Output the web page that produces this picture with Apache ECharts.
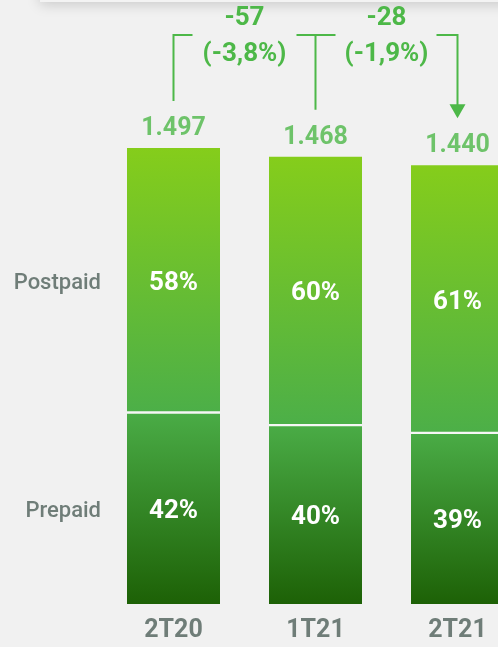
<!DOCTYPE html>
<html>
<head>
<meta charset="utf-8">
<script src="https://cdn.jsdelivr.net/npm/echarts@6/dist/echarts.min.js"></script>
<style>
  html, body { margin: 0; padding: 0; background: #f1f1f1; }
  #chart { width: 498px; height: 647px; }
</style>
</head>
<body>
<div id="chart"></div>
<script>
const categories = ['2T20', '1T21', '2T21'];
const totals = [1497, 1468, 1440];
const postpaidPct = [58, 60, 61];
const prepaidPct = [42, 40, 39];
const deltaAbs = ['-57', '-28'];
const deltaRel = ['(-3,8%)', '(-1,9%)'];
const segmentNames = ['Postpaid', 'Prepaid'];

const GREEN = '#4db848';
const GREY = '#6f7d78';
const FONT = 'Roboto';

const prepaidVals = totals.map((t, i) => t * prepaidPct[i] / 100);
const postpaidVals = totals.map((t, i) => t - prepaidVals[i]);

const fmtThousands = v => String(v).replace(/\B(?=(\d{3})+(?!\d))/g, '.');

const chart = echarts.init(document.getElementById('chart'));

const option = {
  backgroundColor: '#f1f1f1',
  animation: false,
  // categories sit on the grid edges (boundaryGap false); the last bar runs off the canvas
  grid: { left: 173.5, right: 40.5, top: 116.6, bottom: 43 },
  xAxis: {
    type: 'category',
    data: categories,
    boundaryGap: false,
    axisLine: { show: false },
    axisTick: { show: false },
    axisLabel: {
      margin: 14,
      fontFamily: FONT,
      fontWeight: 'bold',
      fontSize: 25,
      color: GREY
    }
  },
  yAxis: {
    type: 'value',
    min: 0,
    max: 1600,
    show: false,
    splitLine: { show: false }
  },
  series: [
    {
      name: 'Prepaid',
      type: 'bar',
      stack: 'total',
      barWidth: 93,
      clip: false,
      data: prepaidVals,
      itemStyle: {
        color: new echarts.graphic.LinearGradient(0, 0, 0, 1, [
          { offset: 0, color: '#4aac46' },
          { offset: 1, color: '#1d6106' }
        ])
      },
      label: {
        show: true,
        position: 'inside',
        offset: [0, 3],
        fontFamily: FONT,
        fontWeight: 'bold',
        fontSize: 26,
        color: '#ffffff',
        formatter: p => prepaidPct[p.dataIndex] + '%'
      }
    },
    {
      name: 'Postpaid',
      type: 'bar',
      stack: 'total',
      barWidth: 93,
      clip: false,
      data: postpaidVals,
      itemStyle: {
        color: new echarts.graphic.LinearGradient(0, 0, 0, 1, [
          { offset: 0, color: '#85cd1b' },
          { offset: 1, color: '#4caf48' }
        ])
      },
      label: {
        show: true,
        position: 'inside',
        offset: [0, 3],
        fontFamily: FONT,
        fontWeight: 'bold',
        fontSize: 26,
        color: '#ffffff',
        formatter: p => postpaidPct[p.dataIndex] + '%'
      }
    },
    {
      name: 'Total',
      type: 'scatter',
      symbolSize: 0,
      clip: false,
      data: totals.map((t, i) => [i, t]),
      label: {
        show: true,
        position: 'top',
        distance: 7,
        fontFamily: FONT,
        fontWeight: 'bold',
        fontSize: 25,
        color: GREEN,
        formatter: p => fmtThousands(totals[p.dataIndex])
      }
    }
  ]
};

chart.setOption(option);

// annotations placed from the chart's own scales
const px = (i, v) => chart.convertToPixel({ gridIndex: 0 }, [i, v]);
const graphics = [];

// top shadow strip
graphics.push({
  type: 'rect',
  shape: { x: 40, y: -40, width: 520, height: 42 },
  style: { fill: '#f3f3f3', shadowBlur: 14, shadowColor: 'rgba(0,0,0,0.18)', shadowOffsetY: 2 },
  z: 1
});

// light separators between segments
totals.forEach((t, i) => {
  const p = px(i, prepaidVals[i]);
  graphics.push({
    type: 'rect',
    shape: { x: p[0] - 46.5, y: p[1] - 1.2, width: 93, height: 2.4 },
    style: { fill: '#f6f6f6' },
    z: 10
  });
});

// side labels next to the first bar
const b0pre = px(0, prepaidVals[0] / 2);
const b0post = px(0, prepaidVals[0] + postpaidVals[0] / 2);
[[segmentNames[0], b0post], [segmentNames[1], b0pre]].forEach(([txt, p]) => {
  graphics.push({
    type: 'text',
    x: p[0] - 46.5 - 26,
    y: p[1] + 3,
    style: {
      text: txt,
      font: '500 22px ' + FONT,
      fill: GREY,
      align: 'right',
      verticalAlign: 'middle'
    },
    z: 10
  });
});

// bracket connectors
const lineY = 35;
const tops = totals.map((t, i) => px(i, t));
const lineStyle = { stroke: GREEN, lineWidth: 2, fill: null };

for (let k = 0; k < 2; k++) {
  const a = tops[k], b = tops[k + 1];
  const mid = (a[0] + b[0]) / 2;
  graphics.push({
    type: 'polyline',
    shape: { points: [[a[0], a[1] - 47], [a[0], lineY], [mid - 52, lineY]] },
    style: lineStyle, z: 10
  });
  graphics.push({
    type: 'text', x: mid, y: 18,
    style: { text: deltaAbs[k], font: 'bold 26px ' + FONT, fill: GREEN, align: 'center', verticalAlign: 'middle' },
    z: 10
  });
  graphics.push({
    type: 'text', x: mid, y: 54,
    style: { text: deltaRel[k], font: 'bold 26px ' + FONT, fill: GREEN, align: 'center', verticalAlign: 'middle' },
    z: 10
  });
  if (k === 1) {
    graphics.push({
      type: 'polyline',
      shape: { points: [[mid + 50, lineY], [b[0], lineY], [b[0], b[1] - 60]] },
      style: lineStyle, z: 10
    });
    graphics.push({
      type: 'polygon',
      shape: { points: [[b[0] - 8, b[1] - 61], [b[0] + 8, b[1] - 61], [b[0], b[1] - 47]] },
      style: { fill: GREEN }, z: 10
    });
  } else {
    graphics.push({
      type: 'line',
      shape: { x1: mid + 52, y1: lineY, x2: b[0] + 20, y2: lineY },
      style: lineStyle, z: 10
    });
  }
}

chart.setOption({ graphic: graphics });
</script>
</body>
</html>
